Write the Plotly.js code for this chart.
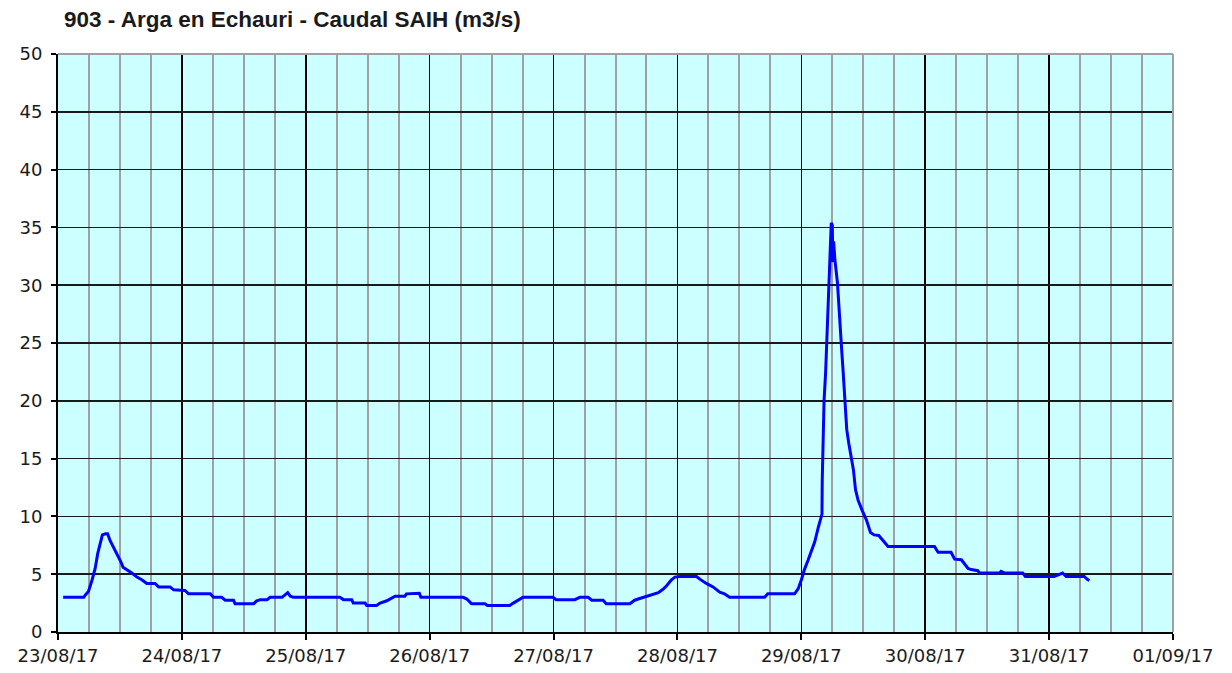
<!DOCTYPE html>
<html>
<head>
<meta charset="utf-8">
<script src="https://cdn.plot.ly/plotly-3.0.1.min.js"></script>
<style>html,body{margin:0;padding:0;background:#fff;}#chart{width:1232px;height:673px;}</style>
</head>
<body>
<div id="chart"></div>
<script>
// Hours elapsed since 23/08/17 00:00
const hoursFromStart = [
  1.0, 5.0, 5.3, 5.9, 6.6, 7.2, 7.7, 8.2, 8.6, 9.2, 9.6, 10.1, 10.8, 11.7, 12.2, 12.6, 13.4, 14.3, 15.3, 16.3,
  17.2, 18.8, 19.5, 21.7, 22.4, 24.6, 25.3, 29.5, 30.1, 31.7, 32.4, 34.0, 34.3, 37.9, 38.5, 39.2, 40.5, 41.1, 43.4, 44.0,
  44.5, 45.0, 45.6, 54.6, 55.3, 56.9, 57.2, 59.5, 59.8, 61.7, 62.4, 63.7, 64.6, 65.3, 67.2, 67.5, 70.0, 70.3, 78.5, 79.2,
  80.1, 82.7, 83.2, 87.5, 88.2, 89.2, 90.1, 95.9, 96.5, 100.1, 101.1, 102.7, 103.4, 105.6, 106.2, 110.8, 111.7, 112.7, 114.0, 115.3,
  116.3, 117.2, 117.9, 118.8, 119.5, 120.5, 123.7, 124.4, 125.6, 126.9, 128.2, 129.1, 130.1, 136.9, 137.5, 142.7, 143.4, 144.0, 144.6, 145.3,
  145.9, 146.6, 147.2, 147.7, 148.0, 148.05, 148.4, 148.7, 148.9, 149.0, 149.2, 149.35, 149.5, 149.8, 150.0, 150.1, 150.25, 150.5, 151.0, 151.4,
  151.7, 152.1, 152.5, 152.8, 153.2, 153.7, 154.1, 154.5, 155.0, 155.8, 156.6, 157.4, 158.1, 159.0, 160.0, 160.6, 160.8, 169.8, 170.5, 173.0,
  173.7, 175.0, 176.3, 176.9, 178.2, 178.5, 182.4, 182.7, 183.4, 186.9, 187.4, 193.0, 194.0, 194.6, 195.3, 198.8, 199.4, 199.8
];
// Caudal (m3/s)
const caudal = [
  3.0, 3.0, 3.2, 3.5, 4.5, 5.5, 6.8, 7.6, 8.4, 8.5, 8.5, 7.9, 7.3, 6.6, 6.05, 5.6, 5.4, 5.1, 4.75, 4.5,
  4.2, 4.2, 3.9, 3.9, 3.65, 3.6, 3.3, 3.3, 3.0, 3.0, 2.75, 2.75, 2.45, 2.45, 2.7, 2.8, 2.8, 3.0, 3.0, 3.25,
  3.4, 3.1, 3.0, 3.0, 2.8, 2.8, 2.5, 2.5, 2.3, 2.3, 2.5, 2.7, 2.95, 3.1, 3.1, 3.3, 3.35, 3.0, 3.0, 2.85,
  2.45, 2.45, 2.3, 2.3, 2.5, 2.75, 3.0, 3.0, 2.8, 2.8, 3.0, 3.0, 2.75, 2.75, 2.45, 2.45, 2.75, 2.9, 3.1, 3.25,
  3.4, 3.7, 4.0, 4.5, 4.75, 4.8, 4.8, 4.55, 4.2, 3.9, 3.45, 3.3, 3.0, 3.0, 3.3, 3.3, 3.75, 4.5, 5.4, 6.2,
  6.9, 7.8, 8.9, 9.8, 10.2, 13.1, 20.0, 22.4, 25.0, 26.4, 29.3, 30.2, 32.3, 35.4, 35.2, 32.0, 33.8, 32.2, 30.2, 27.8,
  25.2, 22.5, 20.0, 17.5, 16.3, 15.0, 14.0, 12.3, 11.4, 10.5, 9.7, 8.6, 8.4, 8.35, 7.8, 7.5, 7.4, 7.4, 6.9, 6.9,
  6.3, 6.25, 5.5, 5.4, 5.3, 5.1, 5.1, 5.25, 5.1, 5.1, 4.8, 4.8, 5.0, 5.1, 4.8, 4.8, 4.55, 4.45
];
const titleText = '903 - Arga en Echauri - Caudal SAIH (m3/s)';
const xStart = '2017-08-23 00:00';
const xEnd = '2017-09-01 00:00';

function pad(n){return (n<10?'0':'')+n;}
const t0 = Date.UTC(2017,7,23,0,0,0);
const times = hoursFromStart.map(h => {
  const d = new Date(t0 + Math.round(h*3600000));
  return d.getUTCFullYear()+'-'+pad(d.getUTCMonth()+1)+'-'+pad(d.getUTCDate())+' '+pad(d.getUTCHours())+':'+pad(d.getUTCMinutes())+':'+pad(d.getUTCSeconds());
});

const tickFont = {family:'DejaVu Sans, Verdana, sans-serif', size:18, color:'#1a1a1a'};

const trace = {
  x: times, y: caudal, type:'scatter', mode:'lines',
  line:{color:'#0000ff', width:3}, hoverinfo:'x+y'
};

const layout = {
  width:1232, height:673,
  margin:{l:58, r:59, t:54, b:41},
  paper_bgcolor:'#ffffff', plot_bgcolor:'#ccffff',
  showlegend:false,
  title:{text:'<b>'+titleText+'</b>', font:{family:'Liberation Sans, Arial, sans-serif', size:22.5, color:'#1a1a1a'},
         xref:'container', yref:'container', x:64/1232, xanchor:'left', y:1-19/673, yanchor:'middle'},
  xaxis:{
    type:'date', range:[xStart, xEnd], tick0:xStart, dtick:86400000, tickformat:'%d/%m/%y',
    ticks:'outside', ticklen:6, tickwidth:2, tickcolor:'#000',
    showgrid:true, gridcolor:'#000000', gridwidth:1.5,
    minor:{dtick:6*3600000, tick0:xStart, showgrid:true, gridcolor:'#a0a0a0', gridwidth:2, ticks:''},
    showline:true, linecolor:'#000', linewidth:2, zeroline:false,
    tickfont:tickFont, fixedrange:true
  },
  yaxis:{
    range:[0,50], dtick:5, tick0:0,
    ticks:'outside', ticklen:5, tickwidth:2, tickcolor:'#000',
    showgrid:true, gridcolor:'#1a1a1a', gridwidth:1.5,
    showline:true, linecolor:'#000', linewidth:2, zeroline:false,
    tickfont:tickFont, ticklabelstandoff:5, fixedrange:true
  },
  shapes:[
    {type:'line', xref:'paper', yref:'paper', x0:0, x1:1, y0:1, y1:1, line:{color:'#a0a0a0', width:2}, layer:'above'},
    {type:'line', xref:'paper', yref:'paper', x0:1, x1:1, y0:0, y1:1, line:{color:'#a0a0a0', width:2}, layer:'above'}
  ]
};

Plotly.newPlot('chart', [trace], layout, {displayModeBar:false, staticPlot:true});
</script>
</body>
</html>
